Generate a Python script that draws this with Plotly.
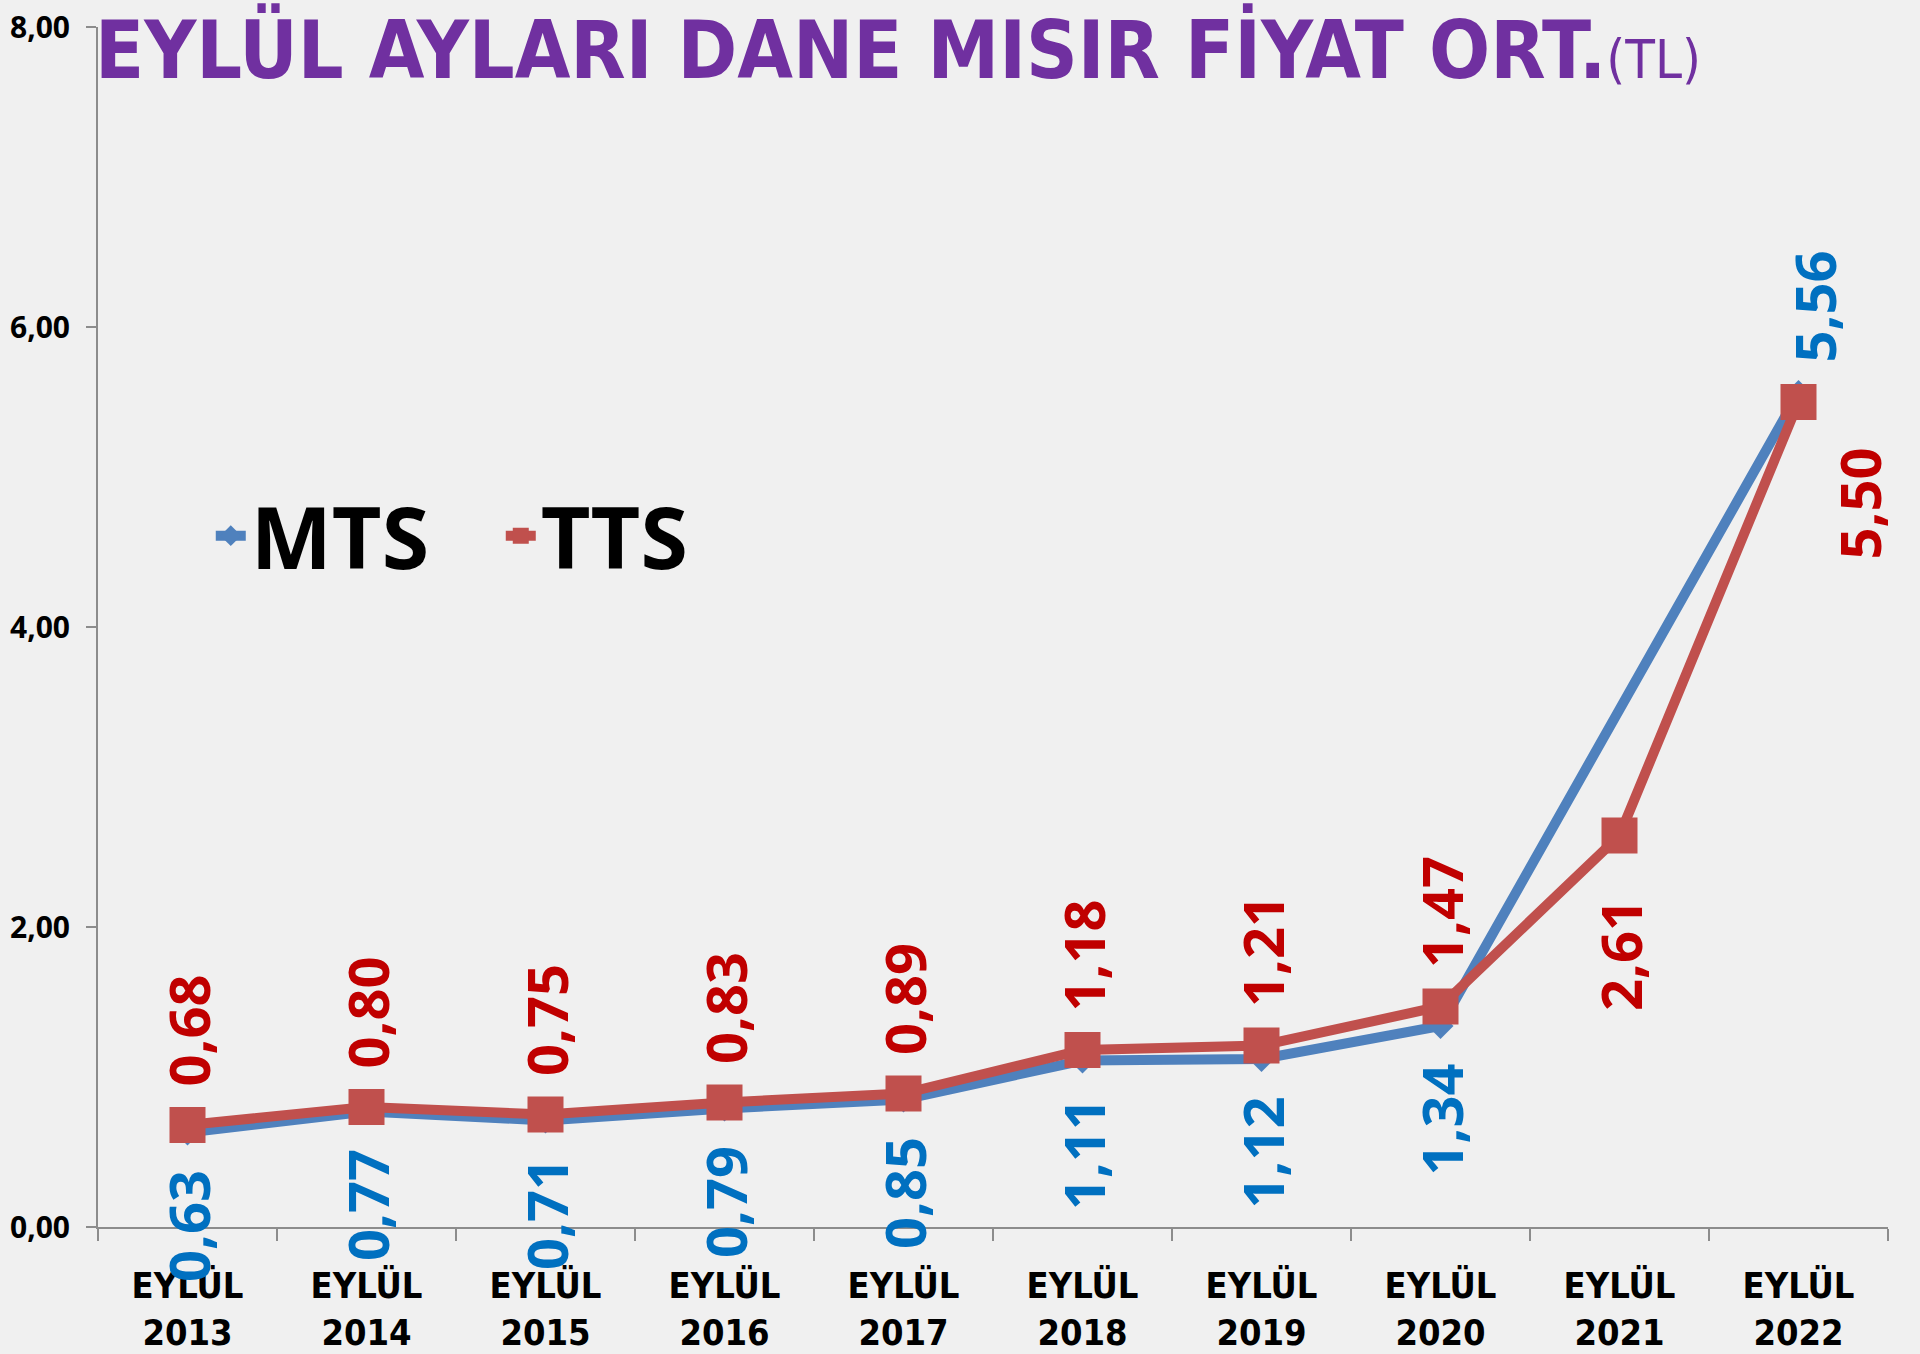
import plotly.graph_objects as go

C = {
    'bg': '#f0f0f0', 'purple': '#7030A0',
    'mts_line': '#4F81BD', 'tts_line': '#C0504D',
    'mts_text': '#0070C0', 'tts_text': '#C00000',
    'axis': '#8c8c8c', 'text': '#000000',
}

years = ['2013', '2014', '2015', '2016', '2017', '2018', '2019', '2020', '2021', '2022']
categories = [f'EYLÜL<br>{y}' for y in years]
mts = [0.63, 0.77, 0.71, 0.79, 0.85, 1.11, 1.12, 1.34, None, 5.56]
tts = [0.68, 0.80, 0.75, 0.83, 0.89, 1.18, 1.21, 1.47, 2.61, 5.50]

y_ticks = [0, 2, 4, 6, 8]
title_text = 'EYLÜL AYLARI DANE MISIR FİYAT ORT.'
narrow = 'Liberation Sans Narrow, DejaVu Sans Condensed, sans-serif'
label_font = 'Open Sans, Noto Sans, sans-serif'

fig = go.Figure()

fig.add_trace(go.Scatter(
    x=categories, y=mts, name='MTS', mode='lines+markers',
    connectgaps=True,
    line=dict(color=C['mts_line'], width=10),
    marker=dict(symbol='diamond', size=20, color=C['mts_line']),
))
fig.add_trace(go.Scatter(
    x=categories, y=tts, name='TTS', mode='lines+markers',
    line=dict(color=C['tts_line'], width=10),
    marker=dict(symbol='square', size=36, color=C['tts_line']),
))

# ── rotated data labels ──
for i, (cat, v) in enumerate(zip(categories, mts)):
    if v is None:
        continue
    if i == len(categories) - 1:
        kw = dict(yanchor='bottom', yshift=28, xshift=15)
    else:
        kw = dict(yanchor='top', yshift=-36)
    fig.add_annotation(
        x=cat, y=v, text=f'{v:.2f}'.replace('.', ','), showarrow=False,
        textangle=-90, font=dict(family=label_font, size=56, color=C['mts_text'], weight='bold'),
        **kw)

for i, (cat, v) in enumerate(zip(categories, tts)):
    if i == len(categories) - 1:
        kw = dict(yanchor='top', yshift=-44, xshift=60)
    elif i == len(categories) - 2:
        kw = dict(yanchor='top', yshift=-62)
    else:
        kw = dict(yanchor='bottom', yshift=36)
    fig.add_annotation(
        x=cat, y=v, text=f'{v:.2f}'.replace('.', ','), showarrow=False,
        textangle=-90, font=dict(family=label_font, size=56, color=C['tts_text'], weight='bold'),
        **kw)

# ── title ──
fig.add_annotation(
    xref='paper', yref='paper', x=-0.003, y=1.0,
    xanchor='left', yanchor='top', yshift=26, showarrow=False,
    text=f'<b>{title_text}</b><span style="font-size:54px">(TL)</span>',
    font=dict(family=narrow, size=80, color=C['purple']),
)

fig.update_layout(
    width=1920, height=1354,
    paper_bgcolor=C['bg'], plot_bgcolor=C['bg'],
    margin=dict(l=98, r=32, t=27, b=127),
    separators=',.',
    font=dict(color=C['text'], family=label_font),
    showlegend=True,
    legend=dict(
        orientation='h', x=0.063, y=0.576, xanchor='left', yanchor='middle',
        bgcolor='rgba(0,0,0,0)',
        font=dict(family=label_font, size=86, color=C['text'], weight='bold'),
        entrywidth=245, entrywidthmode='pixels',
    ),
)

fig.update_xaxes(
    automargin=False, range=[-0.5, len(categories) - 0.5],
    showgrid=False, showline=True, linecolor=C['axis'], linewidth=2,
    ticks='outside', ticklen=12, tickwidth=2, tickcolor=C['axis'],
    tickson='boundaries', ticklabelstandoff=26,
    tickfont=dict(family=narrow, size=36, color=C['text'], weight='bold'),
)
fig.update_yaxes(
    automargin=False,
    range=[0, 8], tickvals=y_ticks, tickformat='.2f',
    showgrid=False, showline=True, linecolor=C['axis'], linewidth=2,
    ticks='outside', ticklen=10, tickwidth=2, tickcolor=C['axis'],
    zeroline=False, ticklabelstandoff=10,
    tickfont=dict(family=label_font, size=30, color=C['text'], weight='bold'),
)

fig.write_html('out.html', config={'displayModeBar': False},
               post_script="document.body.style.margin='0';")
